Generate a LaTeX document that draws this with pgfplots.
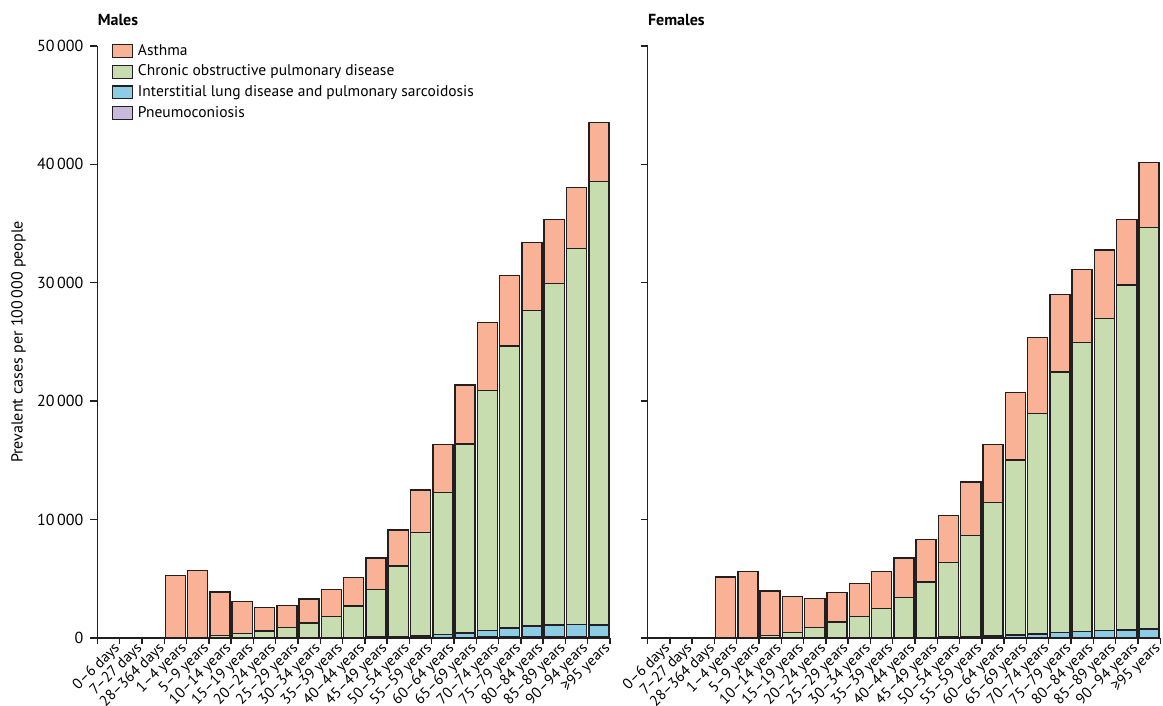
\documentclass[border=0pt]{standalone}
\usepackage{pgfplots}
\pgfplotsset{compat=1.18}
\usepackage{pgfplotstable}
\usepackage{fontspec}
\setmainfont{PT Sans}
\definecolor{asthma}{RGB}{249,178,149}
\definecolor{copd}{RGB}{199,221,176}
\definecolor{ild}{RGB}{140,204,228}
\definecolor{pneumo}{RGB}{200,186,220}
\definecolor{outline}{RGB}{35,31,32}

\pgfplotstableread{
x pn ild copd asthma
3 0 5 5 5260
4 0 10 10 5700
5 0 20 180 3690
6 0 30 340 2730
7 2 28 560 2000
8 3 37 840 1880
9 5 45 1220 2030
10 8 42 1780 2260
11 12 48 2640 2430
12 18 52 4020 2670
13 25 75 5980 3040
14 35 115 8750 3600
15 45 255 11980 4080
16 55 385 15950 4960
17 65 555 20270 5750
18 75 755 23830 5970
19 80 920 26680 5710
20 80 1000 28880 5400
21 75 1055 31760 5150
22 65 1035 37450 4980
}\males

\pgfplotstableread{
x pn ild copd asthma
3 0 5 5 5140
4 0 10 10 5590
5 0 20 180 3770
6 0 20 430 3040
7 0 30 870 2450
8 1 29 1320 2480
9 1 39 1790 2790
10 2 38 2440 3130
11 3 47 3390 3320
12 4 56 4670 3580
13 5 75 6290 3970
14 7 93 8550 4530
15 9 171 11260 4890
16 10 250 14770 5700
17 12 338 18600 6420
18 13 437 22020 6530
19 14 546 24390 6160
20 14 606 26380 5770
21 13 667 29130 5530
22 12 768 33880 5490
}\females

\pgfplotsset{
  panel/.style={
    scale only axis, width=256.3pt, height=296pt,
    xmin=-0.5, xmax=22.5, ymin=0, ymax=50000,
    axis lines=left,
    axis line style={-, line width=0.7pt, draw=outline},
    ybar stacked, bar width=0.9,
    clip=false,
    scaled y ticks=false,
    xtick={0,...,22},
    xticklabels={0–6 days,7–27 days,28–364 days,1–4 years,5–9 years,10–14 years,15–19 years,20–24 years,25–29 years,30–34 years,35–39 years,40–44 years,45–49 years,50–54 years,55–59 years,60–64 years,65–69 years,70–74 years,75–79 years,80–84 years,85–89 years,90–94 years,≥95 years},
    xtick style={draw=none},
    x tick label style={rotate=45, anchor=north east, font=\fontsize{7.5}{8.5}\selectfont, inner sep=0.5pt, xshift=2.3pt, yshift=-0.6pt},
    extra x ticks={-0.5,0.5,...,22.5},
    extra x tick labels={},
    extra x tick style={xtick style={draw=outline, line width=0.7pt}, major tick length=3pt, tick align=outside},
    ytick={0,10000,20000,30000,40000,50000},
    ytick align=outside,
    ytick style={draw=outline, line width=0.7pt},
    major tick length=3.5pt,
    y tick label style={font=\fontsize{8}{9}\selectfont},
    title style={at={(0,1)}, anchor=base west, yshift=4pt, inner sep=0pt, font=\bfseries\fontsize{8}{9}\selectfont},
    every axis plot/.append style={draw=outline, line width=0.75pt},
  }
}

\begin{document}
\begin{tikzpicture}
\useasboundingbox (-48.7pt,-34pt) rectangle (532.8pt,319pt);
\begin{axis}[panel, at={(0pt,0pt)}, title={Males},
  yticklabels={0,10\,000,20\,000,30\,000,40\,000,50\,000},
  ylabel={Prevalent cases per 100\,000 people},
  ylabel style={at={(axis description cs:-0.154,0.5)}, anchor=center, font=\fontsize{8}{9}\selectfont},
  reverse legend,
  legend style={at={(0.027,1.007)}, anchor=north west, draw=none, fill=none, inner sep=0pt,
    font=\fontsize{7.75}{8.5}\selectfont, row sep=1.3pt, cells={anchor=west}, nodes={inner sep=1pt}},
  legend image code/.code={\draw[#1, draw=outline, line width=0.6pt] (0pt,-3.2pt) rectangle (10pt,3.2pt); \path (11.5pt,0pt);},
]
\addplot[fill=pneumo] table[x=x, y=pn] {\males};
\addplot[fill=ild] table[x=x, y=ild] {\males};
\addplot[fill=copd] table[x=x, y=copd] {\males};
\addplot[fill=asthma] table[x=x, y=asthma] {\males};
\legend{Pneumoconiosis, Interstitial lung disease and pulmonary sarcoidosis, Chronic obstructive pulmonary disease, Asthma}
\end{axis}
\begin{axis}[panel, at={(275.1pt,0pt)}, title={Females},
  yticklabels={},
]
\addplot[fill=pneumo] table[x=x, y=pn] {\females};
\addplot[fill=ild] table[x=x, y=ild] {\females};
\addplot[fill=copd] table[x=x, y=copd] {\females};
\addplot[fill=asthma] table[x=x, y=asthma] {\females};
\end{axis}
\end{tikzpicture}
\end{document}
